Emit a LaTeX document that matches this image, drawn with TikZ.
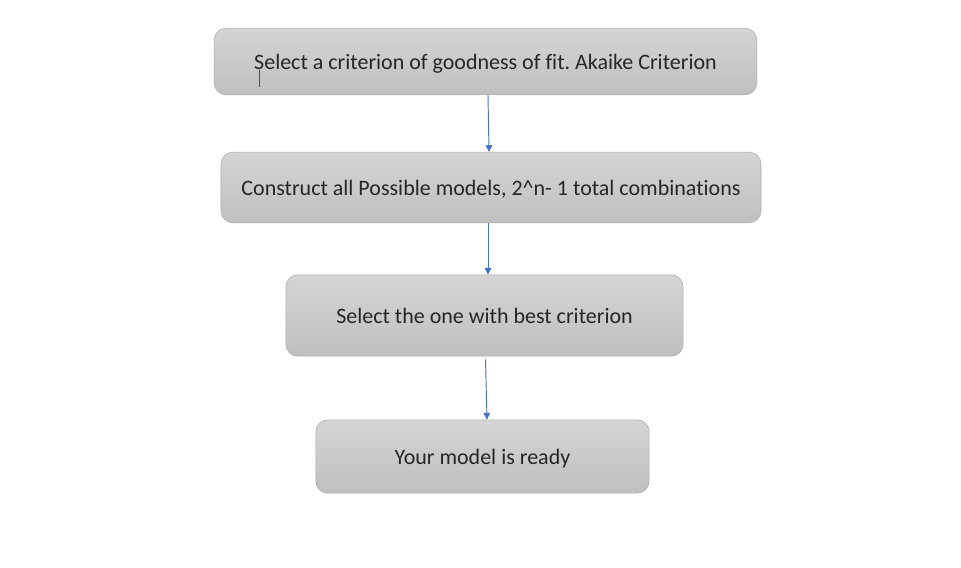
\documentclass[tikz,border=0pt]{standalone}
\usepackage{fontspec}
\setmainfont{Carlito}[Ligatures=NoCommon]
\usetikzlibrary{arrows.meta}
\usetikzlibrary{calc}
\definecolor{arrowblue}{HTML}{4472C4}
\frenchspacing

\begin{document}
\begin{tikzpicture}[x=0.75pt,y=-0.75pt]
	\tikzstyle{stepbox} = 
	[draw = {rgb:black,1;white,2},
	top color = {rgb:black,1;white,5},
	bottom color = {rgb:black,1;white,3},
	rounded corners = 9pt,
	inner sep = 0pt,
	text = black!85,
	text height = 12.5pt,
	text depth = 0pt,
	font = \fontsize{16.5pt}{19pt}\selectfont
	]
	\tikzstyle{flowarrow} = 
	[draw = arrowblue,
	line width = 0.7pt,
	-{Triangle[length=5pt,width=5pt]}
	]

	\useasboundingbox (0,0) rectangle (961,568);

	\node[stepbox, minimum width=407pt, minimum height=50pt] (b1) at (485.5,61.5)
		{Select a criterion of goodness of fit. Akaike Criterion};
	\node[stepbox, minimum width=405pt, minimum height=53pt] (b2) at (491,187.5)
		{Construct all Possible models, 2\^{}n- 1 total combinations};
	\node[stepbox, minimum width=298pt, minimum height=61pt] (b3) at (484.5,315.5)
		{Select the one with best criterion};
	\node[stepbox, minimum width=250pt, minimum height=55pt] (b4) at (482.5,456.5)
		{Your model is ready};

	% text caret left in the first box
	\draw[black!70, line width=0.5pt] (259,70) -- (259,87);

	\draw[flowarrow] ($(b1.south)+(2.5,0)$) -- ($(b2.north)+(-2,0)$);
	\draw[flowarrow] ($(b2.south)+(-3,0)$) -- ($(b3.north)+(3.5,0)$);
	\draw[flowarrow] ($(b3.south)+(1,3)$) -- ($(b4.north)+(4.5,0)$);
\end{tikzpicture}
\end{document}
